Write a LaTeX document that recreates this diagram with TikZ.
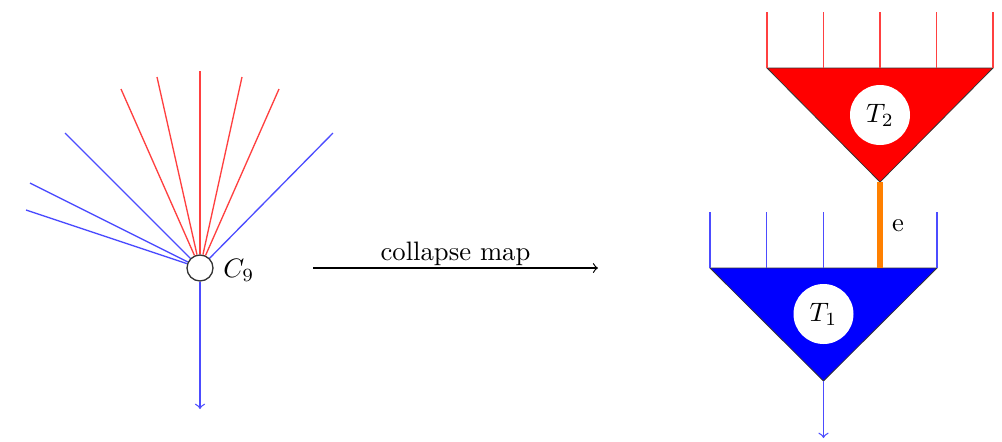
\documentclass[tikz,border=0pt]{standalone}
\begin{document}
\begin{tikzpicture}[x=0.375pt,y=-0.375pt,
  bl/.style={blue!70,line width=0.5pt},
  rd/.style={red!75,line width=0.5pt},
  vert/.style={draw=black!80,circle,minimum size=9.75pt,inner sep=0pt,line width=0.5pt,fill=white},
  tcirc/.style={circle,fill=white,minimum size=22.5pt,inner sep=0pt},
  tri/.style={draw=black!80,line width=0.3pt}]
\useasboundingbox (0,0) rectangle (1002,441);
% left fan
\node[vert] (C) at (200,268) {};
\node[anchor=west] (C9) at (214,270) {$C_9$};
\coordinate (b1) at (65,133);
\coordinate (b2) at (30,183);
\coordinate (b3) at (26,210);
\coordinate (b4) at (333,133);
\coordinate (r1) at (121,89);
\coordinate (r2) at (157,77);
\coordinate (r3) at (200,71);
\coordinate (r4) at (242,77);
\coordinate (r5) at (279,89);
\coordinate (bout) at (200,409);
\foreach \p in {b1,b2,b3,b4} \draw[bl] (C) -- (\p);
\foreach \p in {r1,r2,r3,r4,r5} \draw[rd] (C) -- (\p);
\draw[bl,->] (C) -- (bout);
% collapse map
\coordinate (m1) at (313,268);
\coordinate (m2) at (598,268);
\draw[->,line width=0.45pt] (m1) -- node[above=-2.5pt] {collapse map} (m2);
% red tree T2
\coordinate (R1) at (767,68);
\coordinate (R5) at (993,68);
\coordinate (RA) at (880,182);
\fill[red] (R1) -- (R5) -- (RA) -- cycle;
\draw[tri] (R1) -- (R5) -- (RA) -- cycle;
\foreach \x [count=\i] in {767,823.5,880,936.5,993} {
  \coordinate (rt\i) at (\x,12);
  \coordinate (rb\i) at (\x,68);
  \draw[rd] (rb\i) -- (rt\i);
}
\node[tcirc] (T2) at (880,115) {$T_2$};
% blue tree T1
\coordinate (B1) at (710,268);
\coordinate (B5) at (937,268);
\coordinate (BA) at (823.5,381);
\fill[blue] (B1) -- (B5) -- (BA) -- cycle;
\draw[tri] (B1) -- (B5) -- (BA) -- cycle;
\foreach \x [count=\i] in {710,766.5,823.5,937} {
  \coordinate (bt\i) at (\x,212);
  \coordinate (bb\i) at (\x,268);
  \draw[bl] (bb\i) -- (bt\i);
}
\node[tcirc] (T1) at (823.5,314) {$T_1$};
\coordinate (Bout) at (823.5,438);
\draw[bl,->] (BA) -- (Bout);
% edge e
\coordinate (E2) at (880,268);
\draw[orange,line width=2.2pt] (RA) -- (E2);
\node[text=black,anchor=west,inner sep=1pt] (elab) at (889,226) {e};
\end{tikzpicture}
\end{document}
